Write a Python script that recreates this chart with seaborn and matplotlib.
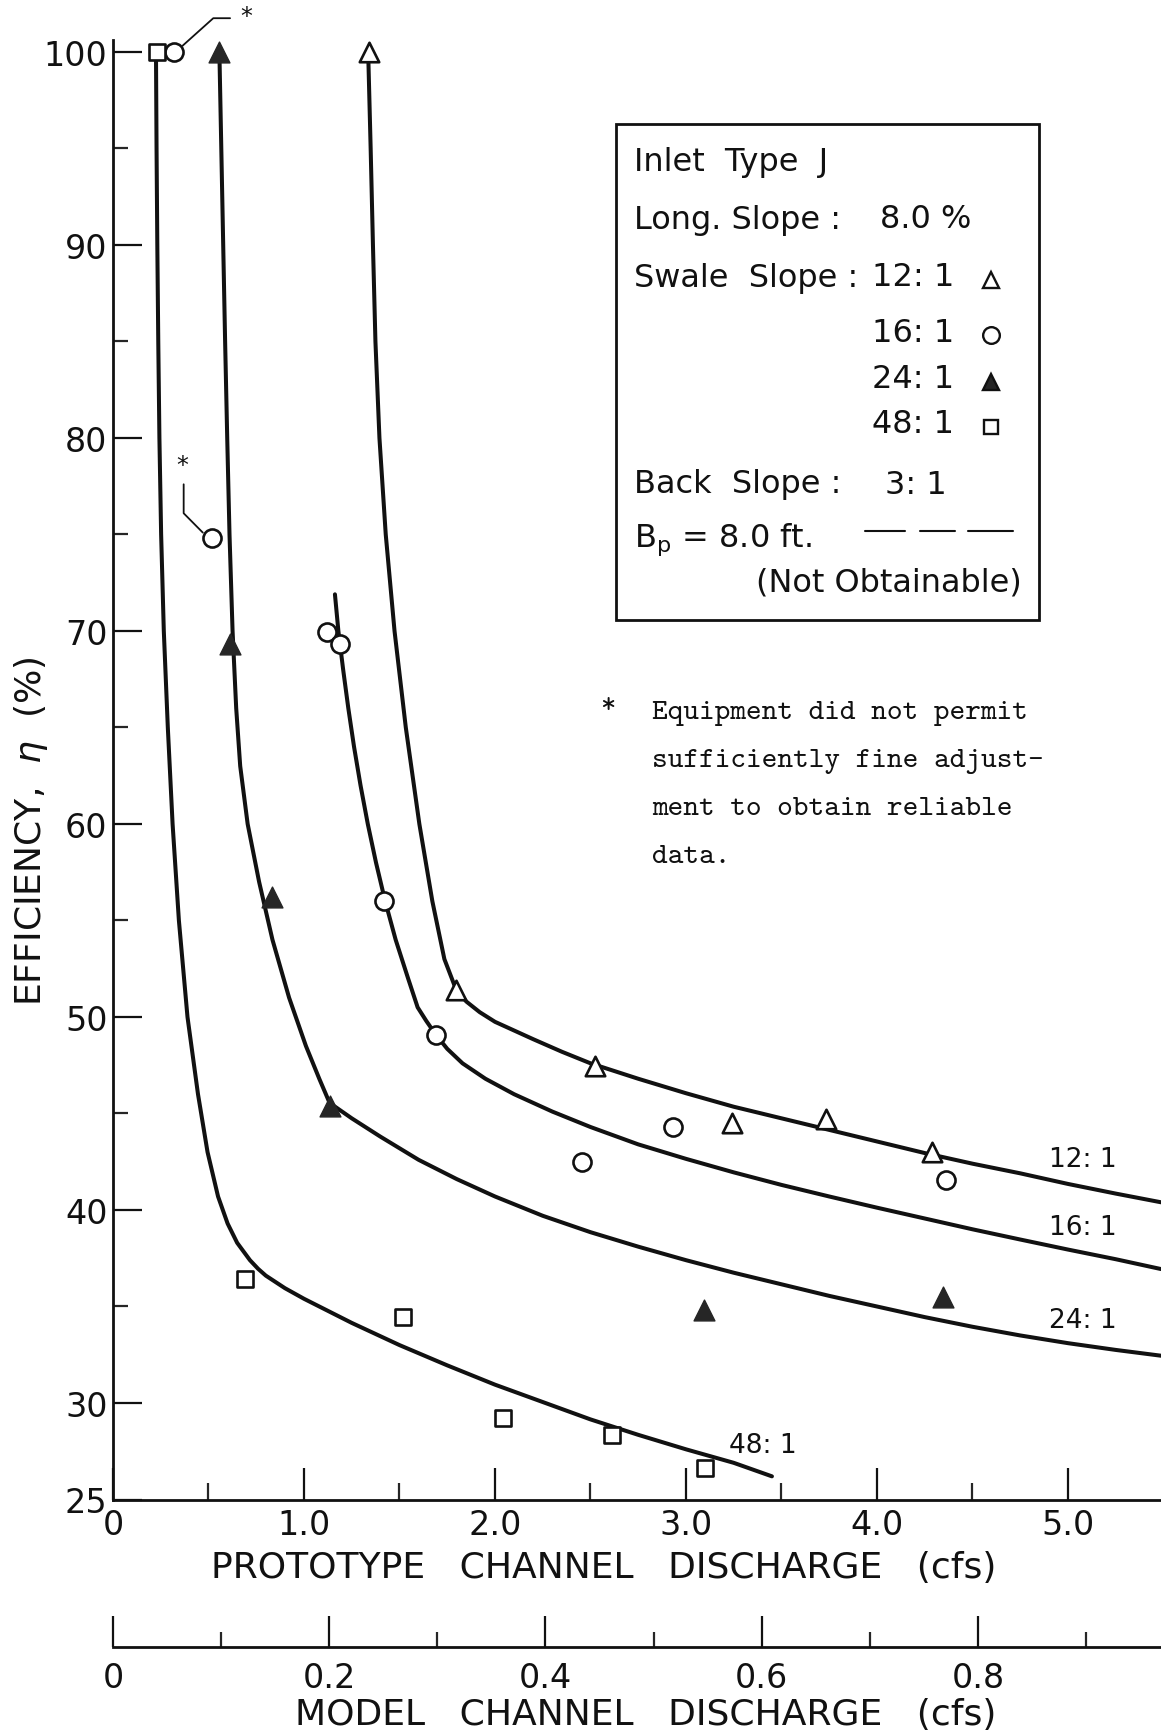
import matplotlib
matplotlib.use("Agg")
import matplotlib.pyplot as plt
import seaborn as sns
import pandas as pd
from matplotlib.lines import Line2D
from matplotlib.patches import Rectangle

# ---------------------------------------------------------------------------
# Measured points: prototype channel discharge (cfs) vs. inlet efficiency (%)
# ---------------------------------------------------------------------------
swale_12_q = [1.34, 1.797, 2.526, 3.242, 3.733, 4.29]
swale_12_eff = [100.0, 51.4, 47.45, 44.5, 44.7, 43.0]

swale_16_q = [0.319, 0.52, 1.119, 1.188, 1.42, 1.689, 2.456, 2.931, 4.36]
swale_16_eff = [100.0, 74.8, 69.93, 69.33, 56.0, 49.08, 42.5, 44.3, 41.55]

swale_24_q = [0.557, 0.611, 0.834, 1.134, 3.092, 4.344]
swale_24_eff = [100.0, 69.3, 56.2, 45.4, 34.8, 35.5]

swale_48_q = [0.229, 0.693, 1.518, 2.042, 2.613, 3.10]
swale_48_eff = [100.0, 36.45, 34.45, 29.2, 28.35, 26.65]

# Hand-faired curves through each swale-slope data set
curve_12_q = [1.336, 1.349, 1.361, 1.374, 1.395, 1.428, 1.474, 1.533, 1.604,
              1.672, 1.735, 1.797, 1.85, 1.92, 2.0, 2.1, 2.2, 2.35, 2.5,
              2.75, 3.0, 3.25, 3.5, 3.75, 4.0, 4.25, 4.5, 4.75, 5.0, 5.25,
              5.487]
curve_12_eff = [100.0, 95.0, 90.0, 85.0, 80.0, 75.0, 70.0, 65.0, 60.0,
                56.0, 53.0, 51.4, 50.8, 50.25, 49.75, 49.3, 48.85, 48.2,
                47.6, 46.8, 46.05, 45.35, 44.75, 44.15, 43.55, 42.95, 42.4,
                41.9, 41.35, 40.85, 40.4]

curve_16_q = [1.162, 1.180, 1.205, 1.232, 1.262, 1.296, 1.334, 1.377, 1.425,
              1.48, 1.545, 1.595, 1.64, 1.689, 1.75, 1.83, 1.95, 2.1, 2.3,
              2.5, 2.75, 3.0, 3.25, 3.5, 3.75, 4.0, 4.25, 4.5, 4.75, 5.0,
              5.25, 5.487]
curve_16_eff = [71.9, 70.0, 68.0, 66.0, 64.0, 62.0, 60.0, 58.0, 56.0, 54.0,
                52.0, 50.5, 49.8, 49.1, 48.35, 47.6, 46.8, 46.0, 45.1, 44.3,
                43.4, 42.65, 41.95, 41.3, 40.7, 40.12, 39.56, 39.0, 38.47,
                37.95, 37.45, 36.94]

curve_24_q = [0.557, 0.567, 0.577, 0.587, 0.598, 0.610, 0.626, 0.645, 0.666,
              0.705, 0.765, 0.835, 0.922, 1.01, 1.08, 1.134, 1.25, 1.4, 1.6,
              1.8, 2.0, 2.25, 2.5, 2.75, 3.0, 3.25, 3.5, 3.75, 4.0, 4.25,
              4.5, 4.75, 5.0, 5.25, 5.487]
curve_24_eff = [100.0, 95.0, 90.0, 85.0, 80.0, 75.0, 70.0, 66.0, 63.0, 60.0,
                57.0, 54.0, 51.0, 48.5, 46.8, 45.55, 44.75, 43.8, 42.6, 41.6,
                40.7, 39.7, 38.85, 38.1, 37.4, 36.75, 36.15, 35.55, 35.0,
                34.45, 33.95, 33.5, 33.1, 32.75, 32.45]

curve_48_q = [0.225, 0.228, 0.232, 0.237, 0.243, 0.252, 0.266, 0.287, 0.312,
              0.345, 0.39, 0.445, 0.495, 0.55, 0.6, 0.65, 0.717, 0.76, 0.8,
              0.9, 1.0, 1.25, 1.5, 1.75, 2.0, 2.25, 2.5, 2.75, 3.0, 3.25,
              3.45]
curve_48_eff = [100.0, 95.0, 90.0, 85.0, 80.0, 75.0, 70.0, 65.0, 60.0, 55.0,
                50.0, 46.0, 43.0, 40.7, 39.3, 38.3, 37.4, 36.95, 36.6, 35.95,
                35.4, 34.15, 33.0, 31.95, 30.95, 30.05, 29.15, 28.35, 27.6,
                26.9, 26.2]

swale_names = ["12:1", "16:1", "24:1", "48:1"]

# Prototype-to-model discharge ratio (1:2 Froude model, 2**2.5)
model_ratio = 5.66

x_ticks = [0, 1, 2, 3, 4, 5]
x_tick_labels = ["0", "1.0", "2.0", "3.0", "4.0", "5.0"]
y_ticks = [25, 30, 40, 50, 60, 70, 80, 90, 100]
model_ticks = [0, 0.2, 0.4, 0.6, 0.8]
model_tick_labels = ["0", "0.2", "0.4", "0.6", "0.8"]

# ---------------------------------------------------------------------------
sns.set_theme(style="ticks")
plt.rcParams["font.family"] = ["DejaVu Sans"]
plt.rcParams["mathtext.fontset"] = "dejavusans"

W, H = 1161, 1733
fig = plt.figure(figsize=(W / 100, H / 100), dpi=100)
fig.patch.set_facecolor("white")


def fx(px):
    return px / W


def fy(py):
    return 1 - py / H


ax_l, ax_r, ax_t, ax_b = 113, 1161, 41.4, 1500.5
ax = fig.add_axes([fx(ax_l), fy(ax_b), fx(ax_r) - fx(ax_l), fy(ax_t) - fy(ax_b)])
ax.set_facecolor("white")

ink = "#111111"

curves = pd.concat([
    pd.DataFrame({"q": curve_12_q, "eff": curve_12_eff, "swale": "12:1"}),
    pd.DataFrame({"q": curve_16_q, "eff": curve_16_eff, "swale": "16:1"}),
    pd.DataFrame({"q": curve_24_q, "eff": curve_24_eff, "swale": "24:1"}),
    pd.DataFrame({"q": curve_48_q, "eff": curve_48_eff, "swale": "48:1"}),
], ignore_index=True)

sns.lineplot(data=curves, x="q", y="eff", units="swale", estimator=None,
             sort=False, color=ink, linewidth=2.9, ax=ax, legend=False,
             zorder=2)
for ln in ax.get_lines():
    ln.set_solid_joinstyle("round")
    ln.set_solid_capstyle("round")

# Data points
sns.scatterplot(x=swale_12_q, y=swale_12_eff, marker="^", s=14 ** 2,
                color="white", edgecolor=ink, linewidth=1.9, ax=ax,
                zorder=4, clip_on=False)
sns.scatterplot(x=swale_16_q, y=swale_16_eff, marker="o", s=13 ** 2,
                color="white", edgecolor=ink, linewidth=1.9, ax=ax,
                zorder=4, clip_on=False)
sns.scatterplot(x=swale_24_q, y=swale_24_eff, marker="^", s=15 ** 2,
                color="#262626", edgecolor="#262626", linewidth=1.0, ax=ax,
                zorder=4, clip_on=False)
sns.scatterplot(x=swale_48_q, y=swale_48_eff, marker="s", s=11 ** 2,
                color="white", edgecolor=ink, linewidth=1.9, ax=ax,
                zorder=4, clip_on=False)

ax.set_xlim(0, 5.487)
ax.set_ylim(25, 100.6)

for side in ["top", "right"]:
    ax.spines[side].set_visible(False)
for side in ["left", "bottom"]:
    ax.spines[side].set_linewidth(2.0)
    ax.spines[side].set_color(ink)

ax.set_xticks(x_ticks)
ax.set_xticklabels(x_tick_labels)
ax.set_xticks([0.5, 1.5, 2.5, 3.5, 4.5], minor=True)
ax.set_yticks(y_ticks)
ax.set_yticklabels([str(v) for v in y_ticks])
ax.set_yticks([35, 45, 55, 65, 75, 85, 95], minor=True)

ax.tick_params(axis="x", which="major", direction="in", length=23, width=1.6,
               labelsize=24, pad=6, colors=ink, bottom=True)
ax.tick_params(axis="x", which="minor", direction="in", length=12, width=1.6,
               bottom=True)
ax.tick_params(axis="y", which="major", direction="in", length=21, width=1.6,
               labelsize=24, pad=4, colors=ink, left=True)
ax.tick_params(axis="y", which="minor", direction="in", length=11, width=1.6,
               left=True)

ax.set_xlabel("PROTOTYPE   CHANNEL   DISCHARGE   (cfs)", fontsize=26,
              color=ink, ha="right", va="center")
ax.xaxis.set_label_coords(fx(996), fy(1568), transform=fig.transFigure)
ax.set_ylabel(r"EFFICIENCY,  $\eta$  (%)", fontsize=26, color=ink,
              va="center")
ax.yaxis.set_label_coords(fx(31), fy(831), transform=fig.transFigure)

# Curve labels
curve_label_pos = {"12:1": (1083, 1160), "16:1": (1083, 1228),
                   "24:1": (1083, 1321), "48:1": (763, 1446)}
for name in swale_names:
    px, py = curve_label_pos[name]
    fig.text(fx(px), fy(py), name.replace(":", ": "), fontsize=19,
             ha="center", va="center", color=ink)

# Asterisk call-outs for the unreliable 16:1 points
ax.plot([0.365, 0.525, 0.613], [100.33, 101.75, 101.75], color=ink, lw=1.3,
        clip_on=False, zorder=3)
ax.text(0.70, 101.85, "*", fontsize=17, ha="center", va="center",
        color=ink, clip_on=False)
ax.plot([0.37, 0.37, 0.47], [77.6, 76.1, 75.1], color=ink, lw=1.3,
        zorder=3)
ax.text(0.362, 78.6, "*", fontsize=17, ha="center", va="center", color=ink)

# Key box
fig.add_artist(Rectangle((fx(616), fy(621)), fx(1039) - fx(616),
                         fy(125) - fy(621), transform=fig.transFigure,
                         fill=False, edgecolor=ink, linewidth=2.0))
key_fs = 23
fig.text(fx(634), fy(163), "Inlet  Type  J", fontsize=key_fs, va="center",
         color=ink)
fig.text(fx(634), fy(220), "Long. Slope :", fontsize=key_fs, va="center",
         color=ink)
fig.text(fx(880), fy(220), "8.0 %", fontsize=key_fs, va="center", color=ink)
fig.text(fx(634), fy(278), "Swale  Slope :", fontsize=key_fs, va="center",
         color=ink)
key_rows_y = [278, 333, 380, 425]
key_markers = [("^", "white"), ("o", "white"), ("^", "#262626"),
               ("s", "white")]
for name, ry, (mk, fc) in zip(swale_names, key_rows_y, key_markers):
    fig.text(fx(872), fy(ry), name.replace(":", ": "), fontsize=key_fs,
             va="center", color=ink)
    fig.add_artist(Line2D([fx(991)], [fy(ry + 3)], marker=mk,
                          markersize=12 if mk != "s" else 10.5,
                          markerfacecolor=fc, markeredgecolor=ink,
                          markeredgewidth=1.7, linestyle="none",
                          transform=fig.transFigure))
fig.text(fx(634), fy(485), "Back  Slope :", fontsize=key_fs, va="center",
         color=ink)
fig.text(fx(885), fy(485), "3: 1", fontsize=key_fs, va="center", color=ink)
fig.text(fx(634), fy(540), r"B$_\mathregular{p}$ = 8.0 ft.",
         fontsize=key_fs, va="center", color=ink)
for x0, x1 in [(865, 905), (920, 955), (968, 1013)]:
    fig.add_artist(Line2D([fx(x0), fx(x1)], [fy(532), fy(532)], color=ink,
                          lw=1.5, transform=fig.transFigure))
fig.text(fx(1022), fy(583), "(Not Obtainable)", fontsize=key_fs,
         ha="right", va="center", color=ink)

# Footnote in typewriter face
note_lines = ["Equipment did not permit", "sufficiently fine adjust-",
              "ment to obtain reliable", "data."]
fig.text(fx(608), fy(708), "*", fontsize=21, family="cmtt10", ha="center",
         va="center", color=ink)
for i, line in enumerate(note_lines):
    fig.text(fx(652), fy(714 + 48 * i), line, fontsize=21.5,
             family="cmtt10", va="center", color=ink)

# Model discharge scale beneath the prototype scale
ax2 = fig.add_axes([fx(ax_l), fy(1648), fx(ax_r) - fx(ax_l), 0.0005])
ax2.set_facecolor("none")
for side in ["top", "right", "left"]:
    ax2.spines[side].set_visible(False)
ax2.spines["bottom"].set_linewidth(2.0)
ax2.spines["bottom"].set_color(ink)
ax2.set_xlim(0, 5.487 / model_ratio)
ax2.set_yticks([])
ax2.set_xticks(model_ticks)
ax2.set_xticklabels(model_tick_labels)
ax2.set_xticks([0.1, 0.3, 0.5, 0.7, 0.9], minor=True)
ax2.tick_params(axis="x", which="major", direction="in", length=22,
                width=1.6, labelsize=24, pad=10, colors=ink, bottom=True)
ax2.tick_params(axis="x", which="minor", direction="in", length=11,
                width=1.6, bottom=True)
ax2.set_xlabel("MODEL   CHANNEL   DISCHARGE   (cfs)", fontsize=26, color=ink,
               ha="right", va="center")
ax2.xaxis.set_label_coords(fx(996), fy(1715), transform=fig.transFigure)

fig.savefig("out.png", dpi=100, facecolor="white")
